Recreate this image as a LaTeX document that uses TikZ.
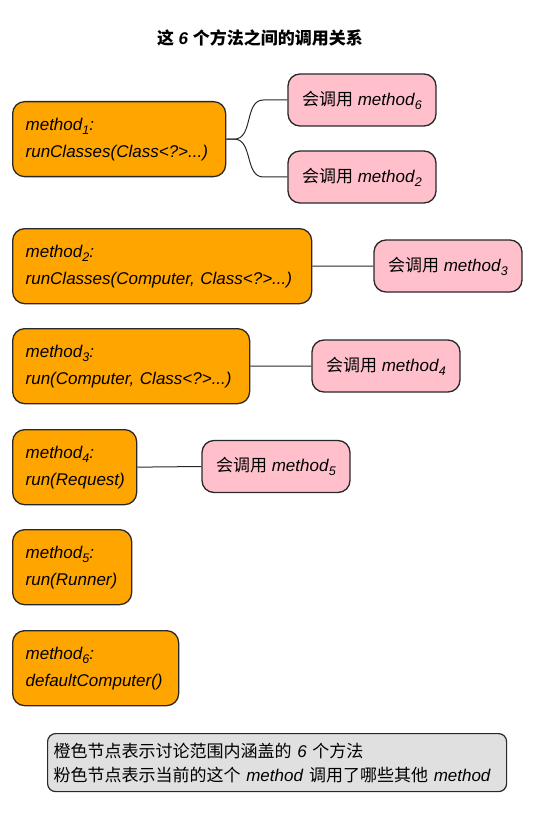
\documentclass[tikz,border=0pt]{standalone}
\usepackage{fontspec}
\setmainfont{Liberation Sans}
\newfontfamily\cjk{Noto Sans CJK SC}
\usetikzlibrary{positioning,calc}
\definecolor{callOrange}{RGB}{255,165,0}
\definecolor{callPink}{RGB}{255,192,203}
\definecolor{callGray}{RGB}{224,224,224}
\definecolor{callEdge}{RGB}{40,40,40}
\newcommand{\msub}[1]{\raisebox{-0.45ex}{\fontsize{12.5}{12.5}\selectfont\itshape #1}}

\begin{document}
\begin{tikzpicture}[x=1pt, y=-1pt,
    meth/.style={rectangle, rounded corners=12pt, draw=callEdge, fill=callOrange,
                 line width=1.3pt, anchor=north west, align=left, inner xsep=13pt,
                 minimum height=75pt, font=\fontsize{17}{27}\selectfont\itshape},
    callee/.style={rectangle, rounded corners=12pt, draw=callEdge, fill=callPink,
                   line width=1.3pt, minimum width=148pt, minimum height=52pt,
                   font=\fontsize{17}{20}\selectfont},
    link/.style={draw=callEdge, line width=1pt}
  ]
  \useasboundingbox (0,0) rectangle (536,821);

  % Title
  \node[font=\fontsize{17}{20}\selectfont\bfseries] (title) at (260,38)
    {{\cjk 这} \textit{6} {\cjk 个方法之间的调用关系}};

  % The six methods
  \node[meth, text width=187pt] (m1) at (12,101) {method\msub{1}:\\\mbox{runClasses(Class<?>...)}};
  \node[meth, text width=273pt] (m2) at (12,228) {method\msub{2}:\\\mbox{runClasses(Computer, Class<?>...)}};
  \node[meth, text width=211pt] (m3) at (12,328) {method\msub{3}:\\\mbox{run(Computer, Class<?>...)}};
  \node[meth, text width=98pt]  (m4) at (12,429) {method\msub{4}:\\run(Request)};
  \node[meth, text width=93pt]  (m5) at (12,529) {method\msub{5}:\\run(Runner)};
  \node[meth, text width=140pt] (m6) at (12,630) {method\msub{6}:\\defaultComputer()};

  % Who calls whom
  \node[callee] (p6) at (362,100)   {{\cjk 会调用} \textit{method}\msub{6}};
  \node[callee] (p2) at (362,177)   {{\cjk 会调用} \textit{method}\msub{2}};
  \node[callee] (p3) at (448,266)   {{\cjk 会调用} \textit{method}\msub{3}};
  \node[callee] (p4) at (386,366)   {{\cjk 会调用} \textit{method}\msub{4}};
  \node[callee] (p5) at (276,466.5) {{\cjk 会调用} \textit{method}\msub{5}};

  \draw[link] (m1.east) -- ++(8,0) to[out=0,in=180] ($(p6.west)+(-24,0)$) -- (p6.west);
  \draw[link] (m1.east) -- ++(8,0) to[out=0,in=180] ($(p2.west)+(-24,0)$) -- (p2.west);
  \draw[link] (m2.east) -- (p3.west);
  \draw[link] (m3.east) -- (p4.west);
  \draw[link] (m4.east) -- (p5.west);

  % Legend
  \node[rectangle, rounded corners=8pt, draw=callEdge, fill=callGray, line width=1.2pt,
        anchor=north west, align=left, text width=447pt, inner xsep=6pt,
        minimum height=58pt, font=\fontsize{17}{24}\selectfont] (note) at (47,733)
    {{\cjk 橙色节点表示讨论范围内涵盖的} \textit{6} {\cjk 个方法}\\
     {\cjk 粉色节点表示当前的这个} \textit{method} {\cjk 调用了哪些其他} \textit{method}};
\end{tikzpicture}
\end{document}
